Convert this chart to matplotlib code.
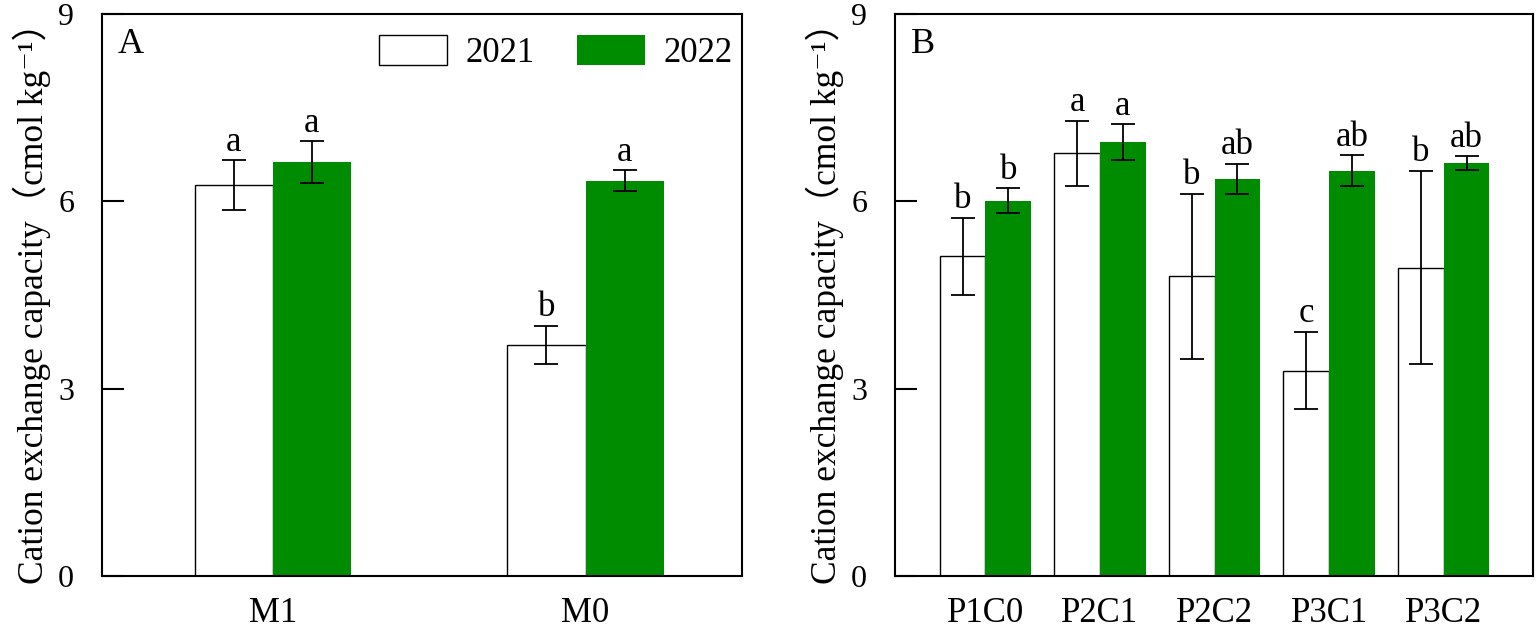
import numpy as np
import matplotlib
matplotlib.use("Agg")
import matplotlib.pyplot as plt

plt.rcParams['font.family'] = ['Liberation Serif', 'Noto Sans CJK SC', 'DejaVu Serif']

years = ['2021', '2022']

# panel A
groups_a = ['M1', 'M0']
a_2021 = [6.26, 3.70]
a_2021_err = [0.40, 0.31]
a_2022 = [6.63, 6.33]
a_2022_err = [0.33, 0.17]
a_let_2021 = ['a', 'b']
a_let_2022 = ['a', 'a']

# panel B
groups_b = ['P1C0', 'P2C1', 'P2C2', 'P3C1', 'P3C2']
b_2021 = [5.12, 6.77, 4.80, 3.29, 4.94]
b_2021_err = [0.62, 0.52, 1.32, 0.62, 1.55]
b_2022 = [6.01, 6.95, 6.36, 6.49, 6.61]
b_2022_err = [0.20, 0.29, 0.24, 0.25, 0.11]
b_let_2021 = ['b', 'a', 'b', 'c', 'b']
b_let_2022 = ['b', 'a', 'ab', 'ab', 'ab']

green = '#008c00'
ylab = 'Cation exchange capacity（cmol kg⁻¹）'

fig = plt.figure(figsize=(15.36, 6.3), dpi=100)
axA = fig.add_axes([102/1536, 54/630, 640/1536, 562/630])
axB = fig.add_axes([895/1536, 54/630, 638/1536, 562/630])


def panel(ax, groups, v1, e1, v2, e2, l1, l2, w, xlim, letter):
    x = np.arange(len(groups))
    ekw = dict(ecolor='black', elinewidth=1.3, capsize=8.5, capthick=1.3)
    b1 = ax.bar(x - w/2, v1, w, yerr=e1, color='white', edgecolor='black',
                linewidth=1.0, error_kw=ekw, label=years[0], zorder=2)
    b2 = ax.bar(x + w/2, v2, w, yerr=e2, color=green, edgecolor=green,
                linewidth=0, error_kw=ekw, label=years[1], zorder=2)
    for xi, v, e, t in zip(x - w/2, v1, e1, l1):
        ax.annotate(t, (xi, v + e), xytext=(0, 1), textcoords='offset points',
                    ha='center', va='bottom', fontsize=25)
    for xi, v, e, t in zip(x + w/2, v2, e2, l2):
        ax.annotate(t, (xi, v + e), xytext=(0, 1), textcoords='offset points',
                    ha='center', va='bottom', fontsize=25)
    ax.set_xlim(*xlim)
    ax.set_ylim(0, 9)
    ax.set_yticks([0, 3, 6, 9])
    ax.set_xticks(x)
    ax.set_xticklabels(groups)
    ax.tick_params(axis='y', direction='in', length=16, width=1.5,
                   labelsize=23, pad=20)
    ax.tick_params(axis='x', length=0, labelsize=25, pad=15)
    for s in ax.spines.values():
        s.set_linewidth(1.5)
    ax.set_ylabel(ylab, fontsize=25.5, labelpad=5)
    ax.text(0.025, 0.975, letter, transform=ax.transAxes, ha='left', va='top',
            fontsize=26)
    return b1, b2


b1, b2 = panel(axA, groups_a, a_2021, a_2021_err, a_2022, a_2022_err,
               a_let_2021, a_let_2022, 0.25, (-0.546, 1.5), 'A')
axA.legend(handles=[b1, b2], loc='center', bbox_to_anchor=(0.709, 0.931),
           ncol=2, frameon=False, fontsize=25, handlelength=1.96,
           handleheight=0.92, handletextpad=0.55, columnspacing=1.2)

panel(axB, groups_b, b_2021, b_2021_err, b_2022, b_2022_err,
      b_let_2021, b_let_2022, 0.40, (-0.79, 4.78), 'B')

fig.savefig('out.png', dpi=100)
